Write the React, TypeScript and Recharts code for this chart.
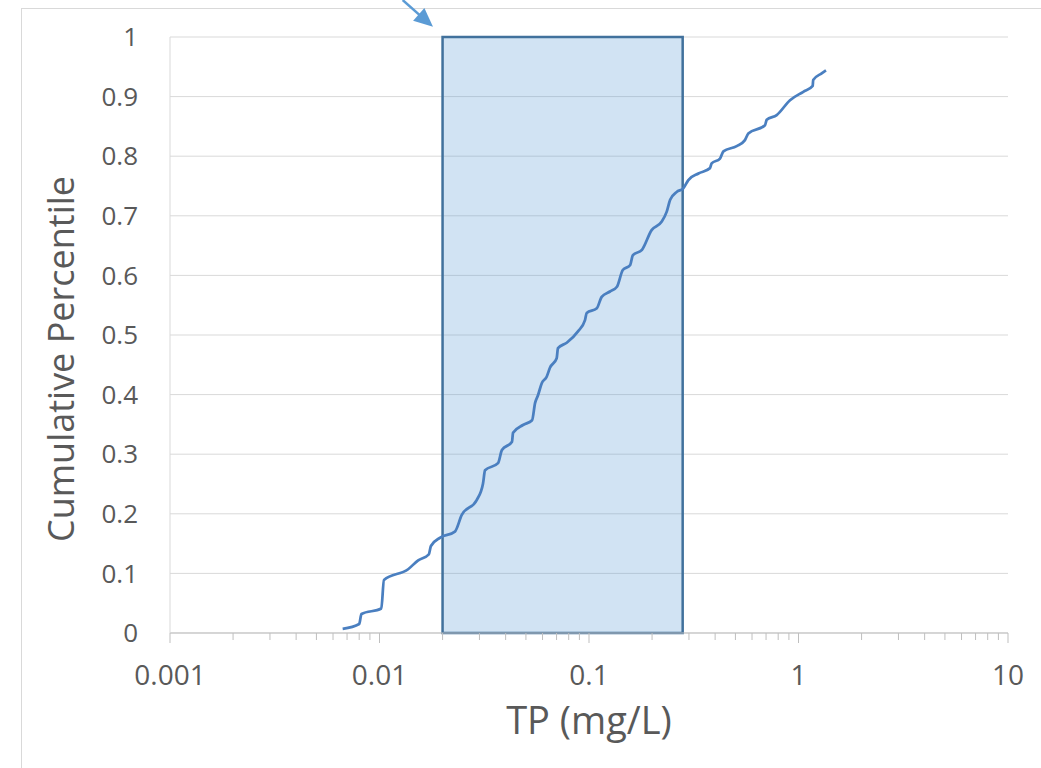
import React from 'react';
import {
    LineChart,
    Line,
    XAxis,
    YAxis,
    CartesianGrid,
    ReferenceArea,
    ReferenceLine,
    Label,
} from 'recharts';

// Total phosphorus concentrations (mg/L) and their cumulative percentile
const tpValues = [
    0.00667, 0.0080, 0.0082, 0.0102, 0.0105, 0.0137, 0.0153, 0.0172, 0.0176, 0.0195,
    0.0229, 0.0247, 0.0291, 0.0312, 0.0319, 0.0368, 0.0384, 0.0429, 0.0434, 0.0484,
    0.0535, 0.0553, 0.0571, 0.0595, 0.0628, 0.0651, 0.0701, 0.0711, 0.0783, 0.0886,
    0.0957, 0.0975, 0.109, 0.115, 0.126, 0.136, 0.145, 0.157, 0.162, 0.179,
    0.199, 0.222, 0.235, 0.244, 0.262, 0.282, 0.298, 0.333, 0.378, 0.385,
    0.422, 0.438, 0.507, 0.555, 0.576, 0.692, 0.705, 0.787, 0.911, 1.054,
    1.169, 1.175, 1.29, 1.353,
];
const percentiles = [
    0.007, 0.015, 0.032, 0.041, 0.089, 0.107, 0.122, 0.132, 0.146, 0.16,
    0.17, 0.198, 0.223, 0.251, 0.273, 0.285, 0.307, 0.321, 0.336, 0.349,
    0.357, 0.386, 0.399, 0.419, 0.43, 0.445, 0.461, 0.478, 0.487, 0.506,
    0.525, 0.537, 0.545, 0.564, 0.573, 0.581, 0.609, 0.617, 0.634, 0.643,
    0.676, 0.69, 0.707, 0.727, 0.74, 0.746, 0.76, 0.771, 0.78, 0.788,
    0.796, 0.808, 0.817, 0.827, 0.838, 0.852, 0.861, 0.869, 0.894, 0.908,
    0.918, 0.928, 0.939, 0.944,
];

// Shaded concentration range
const rangeLow = 0.02;
const rangeHigh = 0.28;

// Callout arrow pointing at the range
const arrowFrom = { x: 0.0129, y: 1.062 };
const arrowTo = { x: 0.018, y: 1.017 };

const xDecades = [0.001, 0.01, 0.1, 1, 10];
const yTicks = [0, 0.1, 0.2, 0.3, 0.4, 0.5, 0.6, 0.7, 0.8, 0.9, 1];

// major decade ticks plus 2..9 minor ticks between them
const xTicks: number[] = [];
xDecades.forEach((d, i) => {
    xTicks.push(d);
    if (i < xDecades.length - 1) {
        for (let k = 2; k <= 9; k++) xTicks.push(+(d * k).toPrecision(3));
    }
});

const data = tpValues.map((tp, i) => ({ tp, pct: percentiles[i] }));

const textColor = '#595959';
const font = '"Open Sans", sans-serif';

const isDecade = (v: number) => xDecades.includes(v);

const XTick = (props: any) => {
    const { x, y, payload } = props;
    const major = isDecade(payload.value);
    return (
        <g>
            <line x1={x} x2={x} y1={y} y2={y + (major ? 10 : 7)} stroke="#bfbfbf" strokeWidth={1} />
            {major && (
                <text x={x} y={y + 52} textAnchor="middle" fill={textColor} fontSize={28} fontFamily={font}>
                    {String(payload.value)}
                </text>
            )}
        </g>
    );
};

const Arrow = (props: any) => {
    const { x1, y1, x2, y2 } = props;
    const ang = Math.atan2(y2 - y1, x2 - x1);
    const headLen = 19;
    const headW = 8.5;
    const bx = x2 - headLen * Math.cos(ang);
    const by = y2 - headLen * Math.sin(ang);
    const px = -Math.sin(ang) * headW;
    const py = Math.cos(ang) * headW;
    return (
        <g>
            <line x1={x1} y1={y1} x2={bx + 2 * Math.cos(ang)} y2={by + 2 * Math.sin(ang)} stroke="#5b9bd5" strokeWidth={2.5} />
            <polygon points={`${x2},${y2} ${bx + px},${by + py} ${bx - px},${by - py}`} fill="#5b9bd5" />
        </g>
    );
};

export default function App() {
    return (
        <div style={{ position: 'relative', width: 1041, height: 768, background: '#fff', overflow: 'hidden' }}>
            <style>{'body{margin:0}'}</style>
            <div
                style={{
                    position: 'absolute',
                    left: 21,
                    top: 8,
                    right: 0,
                    bottom: 0,
                    borderLeft: '1px solid #d9d9d9',
                    borderTop: '1px solid #d9d9d9',
                }}
            />
            <LineChart
                width={1041}
                height={768}
                data={data}
                margin={{ top: 37, right: 33, bottom: 35, left: 0 }}
                style={{ position: 'absolute', left: 0, top: 0 }}
            >
                <CartesianGrid vertical={false} stroke="#d9d9d9" />
                <XAxis
                    dataKey="tp"
                    type="number"
                    scale="log"
                    domain={[0.001, 10]}
                    ticks={xTicks}
                    interval={0}
                    allowDataOverflow
                    height={100}
                    tickSize={0}
                    tickMargin={0}
                    tickLine={false}
                    axisLine={{ stroke: '#bfbfbf' }}
                    tick={<XTick />}
                >
                    <Label
                        content={(p: any) => {
                            const vb = p.viewBox;
                            return (
                                <text
                                    x={vb.x + vb.width / 2}
                                    y={vb.y + 101}
                                    textAnchor="middle"
                                    fill={textColor}
                                    fontSize={38}
                                    fontFamily={font}
                                >
                                    TP (mg/L)
                                </text>
                            );
                        }}
                    />
                </XAxis>
                <YAxis
                    type="number"
                    domain={[0, 1]}
                    ticks={yTicks}
                    width={170}
                    tickSize={0}
                    tickMargin={32}
                    tickLine={false}
                    axisLine={{ stroke: '#d9d9d9' }}
                    tick={{ fill: textColor, fontSize: 26, fontFamily: font }}
                    tickFormatter={(v: number) => String(v)}
                >
                    <Label
                        content={() => (
                            <text
                                x={0}
                                y={0}
                                transform="translate(74 359) rotate(-90)"
                                textAnchor="middle"
                                fill={textColor}
                                fontSize={36}
                                fontFamily={font}
                            >
                                Cumulative Percentile
                            </text>
                        )}
                    />
                </YAxis>
                <ReferenceArea
                    x1={rangeLow}
                    x2={rangeHigh}
                    y1={0}
                    y2={1}
                    fill="#5b9bd5"
                    fillOpacity={0.28}
                    stroke="#41719c"
                    strokeWidth={2.5}
                    ifOverflow="visible"
                />
                <ReferenceLine segment={[arrowFrom, arrowTo]} ifOverflow="visible" shape={Arrow} />
                <Line
                    type="monotone"
                    dataKey="pct"
                    stroke="#4a7fc0"
                    strokeWidth={2.75}
                    dot={false}
                    isAnimationActive={false}
                />
            </LineChart>
        </div>
    );
}
